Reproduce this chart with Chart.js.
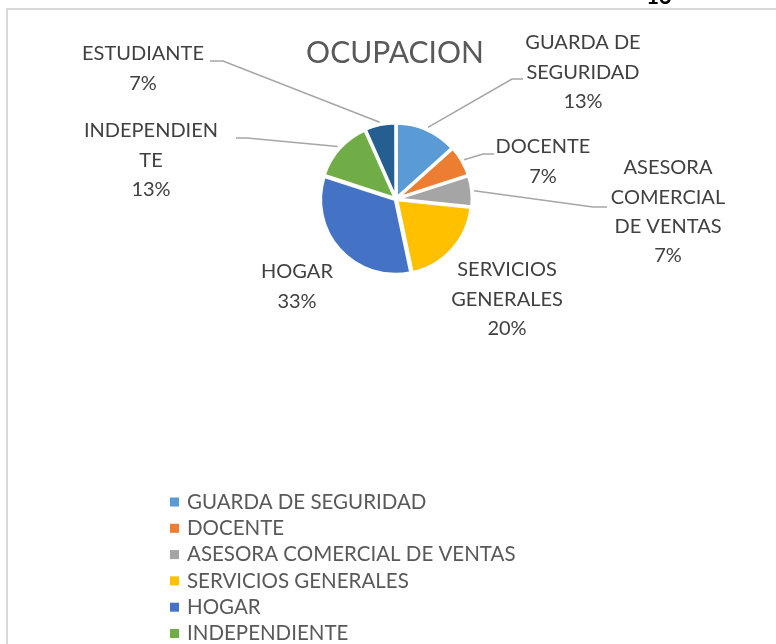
<!DOCTYPE html>
<html>
<head>
<meta charset="utf-8">
<script src="https://cdn.jsdelivr.net/npm/chart.js@4/dist/chart.umd.min.js"></script>
<style>
  html, body { margin: 0; padding: 0; background: #fff; overflow: hidden; }
  #wrap { position: relative; width: 776px; height: 644px; }
</style>
</head>
<body>
<div id="wrap"><canvas id="pieChart" width="776" height="644"></canvas></div>
<script>
// datos del grafico
const categories = ['GUARDA DE SEGURIDAD', 'DOCENTE', 'ASESORA COMERCIAL DE VENTAS', 'SERVICIOS GENERALES', 'HOGAR', 'INDEPENDIENTE', 'ESTUDIANTE'];
const counts = [2, 1, 1, 3, 5, 2, 1];
const sliceColors = ['#5B9BD5', '#ED7D31', '#A5A5A5', '#FFC000', '#4472C4', '#70AD47', '#255E91'];
// como se parten las etiquetas en el original
const labelLines = [['GUARDA DE', 'SEGURIDAD'], ['DOCENTE'], ['ASESORA', 'COMERCIAL', 'DE VENTAS'], ['SERVICIOS', 'GENERALES'], ['HOGAR'], ['INDEPENDIEN', 'TE'], ['ESTUDIANTE']];

const FONT = 'Lato, "Open Sans", sans-serif';

// posicion de cada etiqueta (centro x, primera linea y) y de la linea guia
const labelLayout = [
    { x: 583, y: 43, lead: { x: 523, y: 79, elbow: 512 } },
    { x: 543, y: 147, lead: { x: 494, y: 154, elbow: 483 } },
    { x: 668, y: 168, lead: { x: 607, y: 207, elbow: 593 } },
    { x: 507, y: 270, lead: null },
    { x: 297, y: 272, lead: null },
    { x: 151, y: 131, lead: { x: 236, y: 138, elbow: 247 } },
    { x: 143, y: 54, lead: { x: 210, y: 61, elbow: 223 } },
];

const total = counts.reduce((a, b) => a + b, 0);

const decorPlugin = {
    id: 'decor',
    beforeDraw(chart) {
        const ctx = chart.ctx;
        ctx.save();
        // marco del grafico
        ctx.strokeStyle = '#d9d9d9';
        ctx.lineWidth = 2;
        ctx.strokeRect(7, 9, 820, 700);
        // numero de pagina cortado arriba
        ctx.fillStyle = '#000';
        ctx.font = 'bold 22px ' + FONT;
        ctx.textAlign = 'center';
        ctx.textBaseline = 'alphabetic';
        ctx.fillText('13', 659, 4);
        // titulo
        ctx.fillStyle = '#595959';
        ctx.font = '30px ' + FONT;
        ctx.textBaseline = 'middle';
        ctx.fillText('OCUPACION', 395, 53);
        ctx.restore();
    },
    afterDatasetsDraw(chart) {
        const ctx = chart.ctx;
        const meta = chart.getDatasetMeta(0);
        ctx.save();
        meta.data.forEach((arc, i) => {
            const p = arc.getProps(['x', 'y', 'startAngle', 'endAngle', 'outerRadius'], true);
            const mid = (p.startAngle + p.endAngle) / 2;
            const off = arc.options.offset || 0;
            const r = p.outerRadius + off;
            const ex = p.x + Math.cos(mid) * r;
            const ey = p.y + Math.sin(mid) * r;
            const lay = labelLayout[i];
            if (lay.lead) {
                ctx.strokeStyle = '#a6a6a6';
                ctx.lineWidth = 1.5;
                ctx.beginPath();
                ctx.moveTo(lay.lead.x, lay.lead.y);
                ctx.lineTo(lay.lead.elbow, lay.lead.y);
                ctx.lineTo(ex, ey);
                ctx.stroke();
            }
            const pct = Math.round(counts[i] / total * 100) + '%';
            const lines = labelLines[i].concat([pct]);
            ctx.fillStyle = '#404040';
            ctx.font = '20px ' + FONT;
            ctx.textAlign = 'center';
            ctx.textBaseline = 'middle';
            lines.forEach((t, k) => ctx.fillText(t, lay.x, lay.y + k * 29.3));
        });

        // leyenda
        ctx.textAlign = 'left';
        ctx.textBaseline = 'middle';
        ctx.font = '20.5px ' + FONT;
        categories.forEach((name, i) => {
            const y = 502 + i * 26.3;
            ctx.fillStyle = sliceColors[i];
            ctx.fillRect(170, y - 4.5, 9, 9);
            ctx.fillStyle = '#595959';
            ctx.fillText(name, 187, y);
        });
        ctx.restore();
    }
};

new Chart(document.getElementById('pieChart').getContext('2d'), {
    type: 'pie',
    data: {
        labels: categories,
        datasets: [{
            data: counts,
            backgroundColor: sliceColors,
            borderColor: '#ffffff',
            borderWidth: 3,
            offset: 4
        }]
    },
    options: {
        responsive: false,
        animation: false,
        devicePixelRatio: 1,
        layout: { padding: { left: 318, right: 302, top: 121, bottom: 367 } },
        plugins: {
            legend: { display: false },
            tooltip: { enabled: false },
            title: { display: false }
        }
    },
    plugins: [decorPlugin]
});
</script>
</body>
</html>
